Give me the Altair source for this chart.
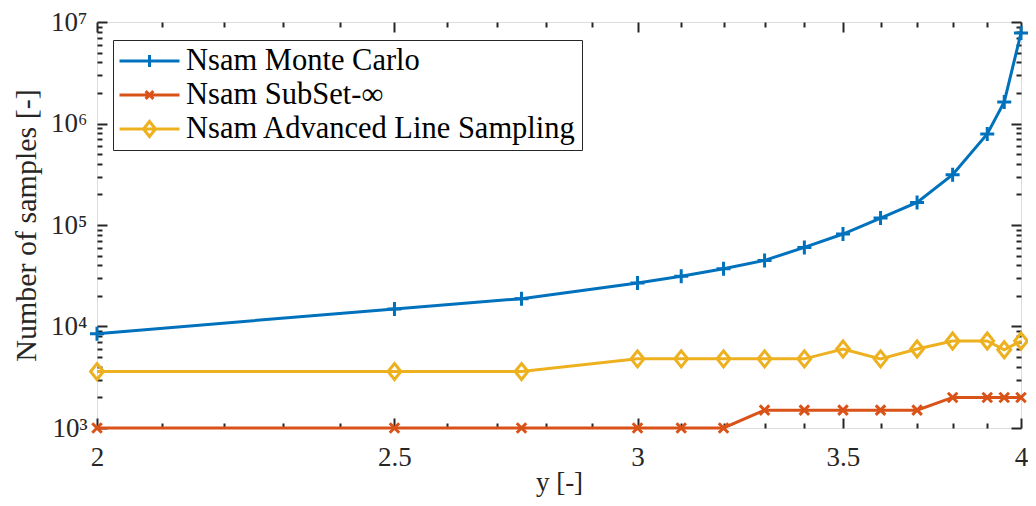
import altair as alt
import pandas as pd

# ---- data ----
x_vals = [2, 2.5, 2.75, 3, 3.1, 3.2, 3.3, 3.4, 3.5, 3.6, 3.7, 3.8, 3.9, 3.95, 4]
mc = [8500, 14900, 18800, 26800, 31200, 37100, 44800, 60100, 81500, 117000,
      167000, 313000, 789000, 1630000, 7800000]
subset = [1000, 1000, 1000, 1000, 1000, 1000, 1500, 1500, 1500, 1500,
          1500, 2000, 2000, 2000, 2000]
als = [3600, 3600, 3600, 4800, 4800, 4800, 4800, 4800, 6000, 4800,
       6000, 7200, 7200, 5900, 7200]

series_names = ["Nsam Monte Carlo", "Nsam SubSet-∞", "Nsam Advanced Line Sampling"]
colors = ["#0072BD", "#D95319", "#EDB120"]

x_major = [2, 2.5, 3, 3.5, 4]
x_minor = [2.1, 2.2, 2.3, 2.4, 2.6, 2.7, 2.8, 2.9, 3.1, 3.2, 3.3, 3.4,
           3.6, 3.7, 3.8, 3.9]
y_major = [1e3, 1e4, 1e5, 1e6, 1e7]
y_minor = [2e3, 3e3, 4e3, 5e3, 6e3, 7e3, 8e3, 9e3,
           2e4, 3e4, 4e4, 5e4, 6e4, 7e4, 8e4, 9e4,
           2e5, 3e5, 4e5, 5e5, 6e5, 7e5, 8e5, 9e5,
           2e6, 3e6, 4e6, 5e6, 6e6, 7e6, 8e6, 9e6]

rows = []
for name, vals in zip(series_names, [mc, subset, als]):
    for xv, yv in zip(x_vals, vals):
        rows.append({"series": name, "x": xv, "n": yv})
df = pd.DataFrame(rows)

# ---- styling ----
FONT = "Liberation Serif"
FS = 27      # tick labels
FS_XT = 27   # x title
FS_YT = 30   # y title
FS_L = 30.5  # legend labels
AX = "#262626"
MAJ = 10
MIN = 5
LW = 3

marker_paths = ["M-1,0H1M0,-1V1", "M-1,-1L1,1M-1,1L1,-1", "M0,-1L0.8,0L0,1L-0.8,0Z"]
marker_sizes = [196, 90, 256]
legend_paths = [
    "M-1,0H1M0,-0.2V0.2",
    "M-1,0H1M-0.13,-0.13L0.13,0.13M-0.13,0.13L0.13,-0.13",
    "M-1,0H1M0,-0.25L0.2,0L0,0.25L-0.2,0Z",
]

xscale = alt.Scale(type="log", domain=[2, 4], nice=False, zero=False)
yscale = alt.Scale(type="log", domain=[1000, 1e7], nice=False, zero=False)

y_label_expr = ("datum.value < 5000 ? '10³' : datum.value < 50000 ? '10⁴' : "
                "datum.value < 500000 ? '10⁵' : datum.value < 5000000 ? '10⁶' : '10⁷'")


def xaxis(orient, values, size, labels=False, title=None):
    kw = dict(orient=orient, values=values, tickSize=size, offset=-size,
              domain=False, grid=False, ticks=True, tickColor=AX, tickWidth=2,
              labels=labels, title=title)
    if labels:
        kw.update(labelFont=FONT, labelFontSize=FS, labelColor=AX, labelPadding=16,
                  labelExpr="format(datum.value, '~g')", labelFlush=False, labelOverlap=False,
                  titleFont=FONT, titleFontSize=FS_XT, titleFontWeight="normal",
                  titleColor=AX, titlePadding=-1)
    return alt.Axis(**kw)


def yaxis(orient, values, size, labels=False, title=None):
    kw = dict(orient=orient, values=values, tickSize=size, offset=-size,
              domain=False, grid=False, ticks=True, tickColor=AX, tickWidth=2,
              labels=labels, title=title)
    if labels:
        kw.update(labelFont=FONT, labelFontSize=FS, labelColor=AX, labelPadding=10,
                  labelExpr=y_label_expr, labelFlush=False, labelOverlap=False,
                  titleFont=FONT, titleFontSize=FS_YT, titleFontWeight="normal",
                  titleColor=AX, titlePadding=9)
    return alt.Axis(**kw)


axis_sets = [
    (xaxis("bottom", x_major, MAJ, True, "y [-]"),
     yaxis("left", y_major, MAJ, True, "Number of samples [-]")),
    (xaxis("bottom", x_minor, MIN), yaxis("left", y_minor, MIN)),
    (xaxis("top", x_major, MAJ), yaxis("right", y_major, MAJ)),
    (xaxis("top", x_minor, MIN), yaxis("right", y_minor, MIN)),
]

base = alt.Chart(df)
layers = []
k = 0
for i, name in enumerate(series_names):
    sub = base.transform_filter(alt.datum.series == name)
    for kind in ("line", "point"):
        if k < len(axis_sets):
            ax_x, ax_y = axis_sets[k]
        else:
            ax_x, ax_y = None, None
        k += 1
        if kind == "line":
            m = sub.mark_line(color=colors[i], strokeWidth=LW)
        else:
            m = sub.mark_point(color=colors[i], shape=marker_paths[i], size=marker_sizes[i],
                               strokeWidth=LW, filled=False, opacity=1)
        layers.append(m.encode(
            x=alt.X("x:Q", scale=xscale, axis=ax_x),
            y=alt.Y("n:Q", scale=yscale, axis=ax_y),
            order=alt.Order("x:Q"),
        ))

leg = alt.Legend(
    orient="none", legendX=16, legendY=18, title=None,
    fillColor="white", strokeColor=AX, padding=5,
    symbolSize=3600, symbolStrokeWidth=LW, symbolOpacity=1,
    symbolOffset=0, labelOffset=5, clipHeight=32, rowPadding=2,
    labelFont=FONT, labelFontSize=FS_L, labelColor="black",
    labelLimit=0, cornerRadius=0)

legend_layer = base.mark_point(opacity=0, filled=False, strokeWidth=LW).encode(
    x=alt.X("x:Q", scale=xscale, axis=None),
    y=alt.Y("n:Q", scale=yscale, axis=None),
    color=alt.Color("series:N", scale=alt.Scale(domain=series_names, range=colors), legend=leg),
    shape=alt.Shape("series:N", scale=alt.Scale(domain=series_names, range=legend_paths), legend=leg),
)
layers.append(legend_layer)

chart = (
    alt.layer(*layers)
    .resolve_axis(x="independent", y="independent")
    .properties(
        width=924, height=406,
        autosize=alt.AutoSizeParams(type="none"),
        padding={"left": 89, "top": 14, "right": 7, "bottom": 70},
    )
    .configure_view(stroke=AX, strokeWidth=2)
    .configure_legend(strokeWidth=2)
    .configure(background="white")
)

chart.save("out.html", embed_options={"renderer": "svg", "actions": False})
